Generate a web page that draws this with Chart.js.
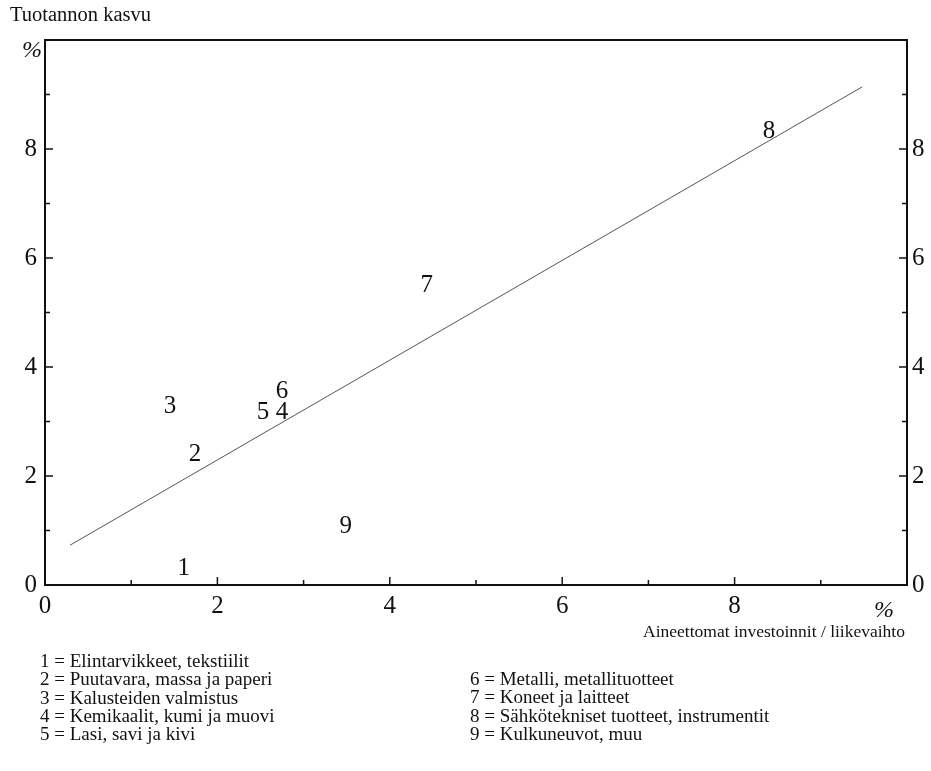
<!DOCTYPE html>
<html>
<head>
<meta charset="utf-8">
<script src="https://cdn.jsdelivr.net/npm/chart.js@4"></script>
<style>
  body { margin: 0; background: #fff; font-family: "Liberation Serif", serif; color: #111; }
  #wrap { position: relative; width: 931px; height: 771px; }
  canvas { position: absolute; left: 0; top: 0; }
  .txt { position: absolute; white-space: nowrap; font-size: 19px; line-height: 18.3px; }
  .pct { position: absolute; font-style: italic; font-size: 24px; }
</style>
</head>
<body>
<div id="wrap">
  <canvas id="chart" width="931" height="771"></canvas>
  <div class="txt" style="left:10px; top:5px; font-size:20.5px;">Tuotannon kasvu</div>
  <div class="pct" style="left:22px; top:36px;">%</div>
  <div class="pct" style="left:874px; top:596px;">%</div>
  <div class="txt" style="right:26px; top:622px; font-size:17.5px;">Aineettomat investoinnit / liikevaihto</div>
  <div class="txt" id="legendLeft" style="left:40px; top:652px;"></div>
  <div class="txt" id="legendRight" style="left:470px; top:670px;"></div>
</div>
<script>
// Industry numbers and names
const labels = ["1", "2", "3", "4", "5", "6", "7", "8", "9"];
const names = [
  "Elintarvikkeet, tekstiilit",
  "Puutavara, massa ja paperi",
  "Kalusteiden valmistus",
  "Kemikaalit, kumi ja muovi",
  "Lasi, savi ja kivi",
  "Metalli, metallituotteet",
  "Koneet ja laitteet",
  "Sähkötekniset tuotteet, instrumentit",
  "Kulkuneuvot, muu"
];

// Intangible investment / turnover (%) and output growth (%)
const investX = [1.61, 1.74, 1.45, 2.75, 2.53, 2.75, 4.43, 8.40, 3.49];
const growthY = [0.31, 2.39, 3.27, 3.17, 3.17, 3.56, 5.49, 8.33, 1.08];

// Regression line end points
const trendX = [0.29, 9.48];
const trendY = [0.73, 9.14];

const tickValues = [0, 1, 2, 3, 4, 5, 6, 7, 8, 9, 10];
const shownTicks = [0, 2, 4, 6, 8];

// Legend text
const legLines = names.map((n, i) => `${labels[i]} = ${n}`);
document.getElementById("legendLeft").innerHTML = legLines.slice(0, 5).join("<br>");
document.getElementById("legendRight").innerHTML = legLines.slice(5).join("<br>");

// Draws the frame, inward ticks and the number labels
const paperPlugin = {
  id: "paper",
  afterDatasetsDraw(chart) {
    const { ctx, chartArea: a, scales } = chart;
    ctx.save();
    ctx.strokeStyle = "#111";
    ctx.lineWidth = 2;
    ctx.strokeRect(a.left, a.top, a.right - a.left, a.bottom - a.top);

    ctx.lineWidth = 1.5;
    tickValues.forEach(v => {
      const len = v % 2 === 0 ? 8 : 5;
      if (v === 0 || v === 10) return;
      const px = scales.x.getPixelForValue(v);
      ctx.beginPath();
      ctx.moveTo(px, a.bottom);
      ctx.lineTo(px, a.bottom - len);
      ctx.stroke();
      const py = scales.y.getPixelForValue(v);
      ctx.beginPath();
      ctx.moveTo(a.left, py);
      ctx.lineTo(a.left + len, py);
      ctx.moveTo(a.right, py);
      ctx.lineTo(a.right - len, py);
      ctx.stroke();
    });

    const meta = chart.getDatasetMeta(0);
    ctx.fillStyle = "#111";
    ctx.font = "25px 'Liberation Serif'";
    ctx.textAlign = "center";
    ctx.textBaseline = "middle";
    meta.data.forEach((pt, i) => {
      ctx.fillText(labels[i], pt.x, pt.y);
    });
    ctx.restore();
  }
};

const tickFont = { family: "Liberation Serif", size: 25 };
const evenOnly = v => (shownTicks.includes(v) ? String(v) : "");

new Chart(document.getElementById("chart"), {
  type: "scatter",
  data: {
    datasets: [
      {
        data: investX.map((x, i) => ({ x, y: growthY[i] })),
        pointRadius: 0,
        pointHoverRadius: 0
      },
      {
        data: trendX.map((x, i) => ({ x, y: trendY[i] })),
        showLine: true,
        borderColor: "#555",
        borderWidth: 1,
        pointRadius: 0
      }
    ]
  },
  options: {
    responsive: false,
    animation: false,
    layout: { padding: { top: 40, left: 0, right: 0, bottom: 0 } },
    plugins: { legend: { display: false }, tooltip: { enabled: false } },
    scales: {
      x: {
        type: "linear",
        min: 0,
        max: 10,
        grid: { display: false },
        border: { display: false },
        afterFit: s => { s.height = 186; },
        ticks: { stepSize: 1, callback: evenOnly, color: "#111", font: tickFont, padding: -2, maxRotation: 0 }
      },
      y: {
        min: 0,
        max: 10,
        grid: { display: false },
        border: { display: false },
        afterFit: s => { s.width = 45; },
        ticks: { stepSize: 1, callback: evenOnly, color: "#111", font: tickFont, padding: 0 }
      },
      y2: {
        position: "right",
        min: 0,
        max: 10,
        grid: { display: false },
        border: { display: false },
        afterFit: s => { s.width = 24; },
        ticks: { stepSize: 1, callback: evenOnly, color: "#111", font: tickFont, padding: -3 }
      }
    }
  },
  plugins: [paperPlugin]
});
</script>
</body>
</html>
